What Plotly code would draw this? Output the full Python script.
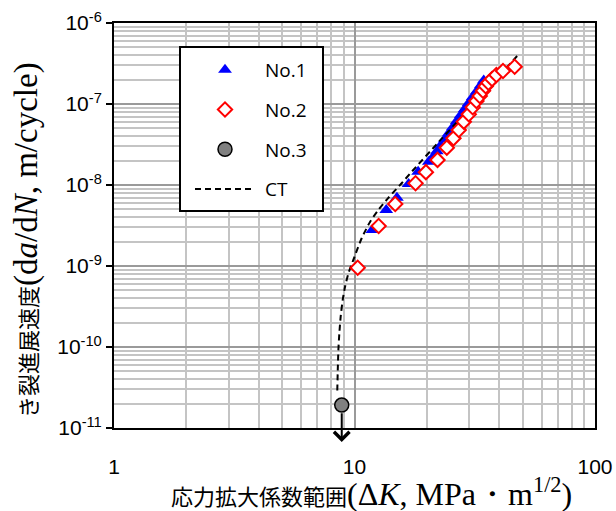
import math
import plotly.graph_objects as go

# No.1 (blue triangles)
k1 = [11.86, 13.55, 15.01, 16.79, 18.39, 20.38, 21.17, 22.0, 22.86, 23.74, 24.67, 25.63,
      26.63, 27.67, 28.74, 29.86, 31.02, 32.23, 33.49, 34.46]
r1 = [2.78e-9, 4.91e-9, 6.97e-9, 1.03e-8, 1.46e-8, 1.94e-8, 2.20e-8, 2.61e-8, 3.10e-8, 3.67e-8,
      4.36e-8, 5.18e-8, 6.15e-8, 7.30e-8, 8.65e-8, 1.03e-7, 1.22e-7, 1.44e-7, 1.71e-7, 1.95e-7]

# No.2 (red open diamonds)
k2 = [10.31, 12.60, 14.77, 17.94, 19.81, 22.14, 24.20, 25.79, 27.14, 28.48, 29.86, 31.02,
      32.14, 33.17, 34.23, 35.13, 36.05, 37.32, 38.90, 41.44, 46.34]
r2 = [9.53e-10, 3.12e-9, 5.83e-9, 1.05e-8, 1.44e-8, 2.04e-8, 2.89e-8, 3.77e-8, 4.78e-8, 6.05e-8,
      7.46e-8, 9.11e-8, 1.089e-7, 1.256e-7, 1.459e-7, 1.654e-7, 1.832e-7, 2.037e-7, 2.28e-7,
      2.555e-7, 2.887e-7]

# No.3 (grey circle, run-out)
k3 = [8.85]
r3 = [1.92e-11]

# CT curve (dashed)
kct = [8.48, 8.52, 8.57, 8.65, 8.76, 8.93, 9.13, 9.43, 9.89, 10.71, 11.6, 12.55, 13.8,
       15.7, 17.3, 22.6, 28.0, 35.0, 42.0, 48.6]
rct = [2.9e-11, 5.2e-11, 9.2e-11, 1.48e-10, 2.37e-10, 3.8e-10, 5.5e-10, 8.1e-10, 1.19e-9,
       2.2e-9, 3.5e-9, 4.9e-9, 6.9e-9, 1.05e-8, 1.46e-8, 3.5e-8, 7.0e-8, 1.45e-7, 2.63e-7,
       4.23e-7]

x_ticks = [1, 10, 100]
x_ticktext = ["1", "10", "100"]
y_ticks = [1e-11, 1e-10, 1e-9, 1e-8, 1e-7, 1e-6]
y_ticktext = ["10<sup>-11</sup>", "10<sup>-10</sup>", "10<sup>-9</sup>",
              "10<sup>-8</sup>", "10<sup>-7</sup>", "10<sup>-6</sup>"]

LEG_FONT = dict(family="Open Sans", size=19, color="black")
NB = "\u00a0"

fig = go.Figure()
fig.add_trace(go.Scatter(x=k1, y=r1, mode="markers", name=NB + "No.1",
                         marker=dict(symbol="triangle-up", size=12, color="#0000FF",
                                     line=dict(width=0)),
                         legendgroup="a", legendrank=1))
fig.add_trace(go.Scatter(x=kct, y=rct, mode="lines", name=NB + "CT",
                         line=dict(color="black", width=2, dash="6px,4px", shape="spline",
                                   smoothing=0.6),
                         legendgroup="d", legendrank=4))
fig.add_trace(go.Scatter(x=k2, y=r2, mode="markers", name=NB + "No.2",
                         marker=dict(symbol="diamond", size=11, color="white",
                                     line=dict(width=2, color="#FF0000")),
                         legendgroup="b", legendrank=2))
fig.add_trace(go.Scatter(x=k3, y=r3, mode="markers", name=NB + "No.3",
                         marker=dict(symbol="circle", size=14, color="#808080",
                                     line=dict(width=1.5, color="black")),
                         legendgroup="c", legendrank=3, cliponaxis=False))

L, R, T, B = 114, 21, 23, 83
W, H = 616, 511
pw = W - L - R
ph = H - T - B


def px2paper(xp, yp):
    return (xp - L) / pw, (H - B - yp) / ph


# legend frame
bx0, by0 = px2paper(180, 211)
bx1, by1 = px2paper(323, 47)
fig.add_shape(type="rect", xref="paper", yref="paper", x0=bx0, y0=by0, x1=bx1, y1=by1,
              line=dict(color="black", width=2), fillcolor="white", layer="above")

lx, ly = px2paper(190, 51)

# run-out arrow
fig.add_annotation(x=math.log10(k3[0]), y=-11.173, ax=math.log10(k3[0]), ay=-10.80,
                   xref="x", yref="y", axref="x", ayref="y", text="", showarrow=True,
                   arrowhead=4, arrowsize=1.5, arrowwidth=2, arrowcolor="black")

jpx = "font-family:'Noto Sans CJK JP';font-size:22px"
sfx = "font-family:'Liberation Serif';font-size:32px"
jpy = "font-family:'Noto Sans CJK JP';font-size:22px"
sfy = "font-family:'Liberation Serif';font-size:33px"
xt_x, xt_y = px2paper(371, 492)
fig.add_annotation(x=xt_x, y=xt_y, xref="paper", yref="paper", showarrow=False,
                   xanchor="center", yanchor="middle",
                   text=f"<span style=\"{jpx}\">応力拡大係数範囲</span><span style=\"{sfx}\">(Δ<i>K</i>, MPa・m<sup>1/2</sup>)</span>",
                   font=dict(size=22, color="black"))
yt_x, yt_y = px2paper(26, 240)
fig.add_annotation(x=yt_x, y=yt_y, xref="paper", yref="paper", showarrow=False,
                   xanchor="center", yanchor="middle", textangle=-90,
                   text=f"<span style=\"{jpy}\">き裂進展速度</span><span style=\"{sfy}\">(d<i>a</i>/d<i>N</i>, m/cycle)</span>",
                   font=dict(size=22, color="black"))

axis_common = dict(type="log", showline=True, linecolor="black", linewidth=2, mirror=True,
                   showgrid=True, gridcolor="#9A9A9A", gridwidth=2, zeroline=False,
                   automargin=False,
                   tickfont=dict(family="Liberation Sans", size=21, color="black"))

fig.update_xaxes(range=[0, 2], tickmode="array", tickvals=x_ticks, ticktext=x_ticktext,
                 ticks="", ticklabelstandoff=19,
                 minor=dict(dtick="D1", showgrid=True, gridcolor="#C4C4C4", gridwidth=1.5,
                            ticks=""),
                 **axis_common)
fig.update_yaxes(range=[-11, -6], tickmode="array", tickvals=y_ticks, ticktext=y_ticktext,
                 ticks="outside", ticklen=6, tickwidth=2, tickcolor="black",
                 minor=dict(dtick="D1", showgrid=True, gridcolor="#C4C4C4", gridwidth=1.5,
                            ticks=""),
                 **axis_common)

fig.update_layout(width=W, height=H, margin=dict(l=L, r=R, t=T, b=B, autoexpand=False),
                  paper_bgcolor="white", plot_bgcolor="white",
                  showlegend=True,
                  legend=dict(x=lx, y=ly, xanchor="left", yanchor="top",
                              bgcolor="rgba(0,0,0,0)", borderwidth=0,
                              font=LEG_FONT, itemwidth=60, tracegroupgap=12,
                              traceorder="grouped"))

fig.write_html("out.html")
